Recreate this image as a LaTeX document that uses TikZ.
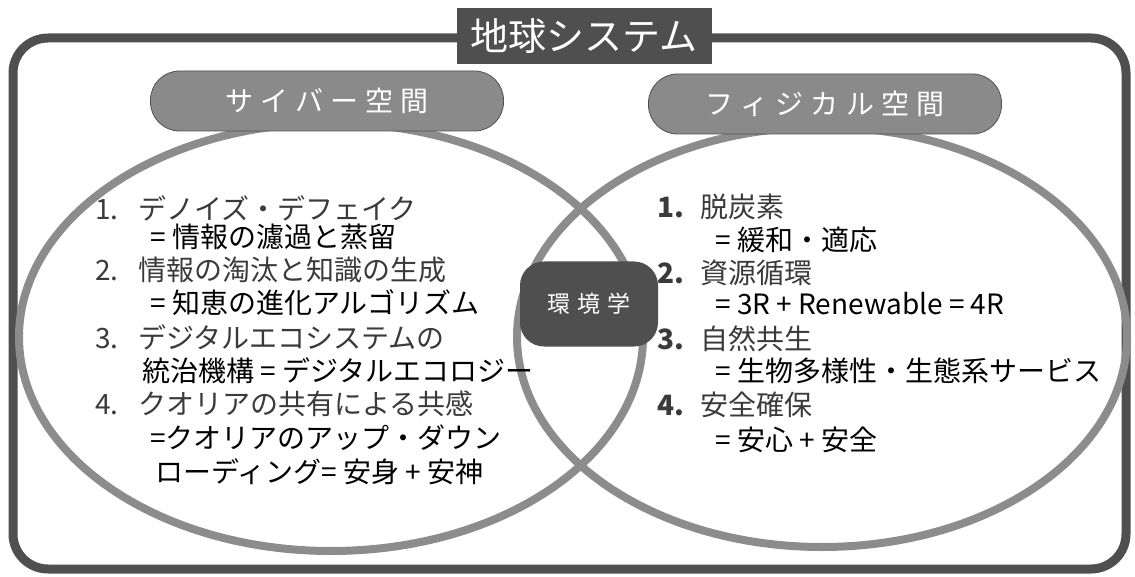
\documentclass[tikz,border=0pt]{standalone}
\usepackage{fontspec}
\setmainfont{Noto Sans CJK JP}
\newfontfamily\pillfont[LetterSpace=26]{Noto Sans CJK JP}
\newfontfamily\hubfont[LetterSpace=32]{Noto Sans CJK JP}
\usetikzlibrary{shapes}

\definecolor{framegray}{HTML}{4F4F4F}
\definecolor{ringgray}{HTML}{8C8C8C}
\definecolor{pillgray}{HTML}{8A8A8A}
\definecolor{itemgray}{HTML}{3A3A3A}

\newcommand{\num}[1]{\makebox[43pt][l]{#1}}

\begin{document}
\begin{tikzpicture}[x=1pt,y=-1pt]
  \useasboundingbox (0,0) rectangle (1135,577);
  \tikzstyle{ringline}=[draw=ringgray, line width=8pt]
  \tikzstyle{titlebox}=[fill=framegray, text=white, minimum width=255pt, minimum height=56pt, font=\fontsize{38}{40}\selectfont]
  \tikzstyle{pill}=[rectangle, rounded corners=29pt, fill=pillgray, draw=framegray, line width=0.8pt, text=white, minimum width=353pt, minimum height=60pt, font=\pillfont\fontsize{28}{30}\selectfont]
  \tikzstyle{hub}=[rectangle, rounded corners=24pt, fill=framegray, text=white, minimum width=138pt, minimum height=85pt, font=\hubfont\fontsize{23}{25}\selectfont]
  \tikzstyle{item}=[anchor=west, inner sep=0pt, text=itemgray, font=\fontsize{28}{32}\selectfont]
  \tikzstyle{sub}=[anchor=west, inner sep=0pt, text=black, font=\fontsize{28}{32}\selectfont]

  % frame and the two spaces
  \draw[draw=framegray, line width=9pt, rounded corners=35pt] (13,38) rectangle (1126,569);
  \draw[ringline] (331,337) ellipse [x radius=312pt, y radius=214pt];
  \draw[ringline] (822,337) ellipse [x radius=305pt, y radius=210pt];

  \node[titlebox] (earth) at (584,36) {地球システム};
  \node[pill] (cyber) at (327,101) {サイバー空間};
  \node[pill] (physical) at (825,104) {フィジカル空間};
  \node[hub] (env) at (589,304) {環境学};

  % cyber space
  \node[item] (c1) at (95,208) {\num{1.}デノイズ・デフェイク};
  \node[sub] (c1s) at (150,237) {= 情報の濾過と蒸留};
  \node[item] (c2) at (95,270) {\num{2.}情報の淘汰と知識の生成};
  \node[sub] (c2s) at (150,303) {= 知恵の進化アルゴリズム};
  \node[item] (c3) at (95,337) {\num{3.}デジタルエコシステムの};
  \node[sub] (c3s) at (142,371) {統治機構 = デジタルエコロジー};
  \node[item] (c4) at (95,404) {\num{4.}クオリアの共有による共感};
  \node[sub] (c4s) at (150,438) {=クオリアのアップ・ダウン};
  \node[sub] (c4t) at (155,472) {ローディング= 安身 + 安神};

  % physical space
  \node[item] (p1) at (657,207) {\num{\textbf{1.}}脱炭素};
  \node[sub] (p1s) at (715,240) {= 緩和・適応};
  \node[item] (p2) at (657,273) {\num{\textbf{2.}}資源循環};
  \node[sub] (p2s) at (715,304) {= 3R + Renewable = 4R};
  \node[item] (p3) at (657,339) {\num{\textbf{3.}}自然共生};
  \node[sub] (p3s) at (715,371) {= 生物多様性・生態系サービス};
  \node[item] (p4) at (657,405) {\num{\textbf{4.}}安全確保};
  \node[sub] (p4s) at (715,440) {= 安心 + 安全};
\end{tikzpicture}
\end{document}
